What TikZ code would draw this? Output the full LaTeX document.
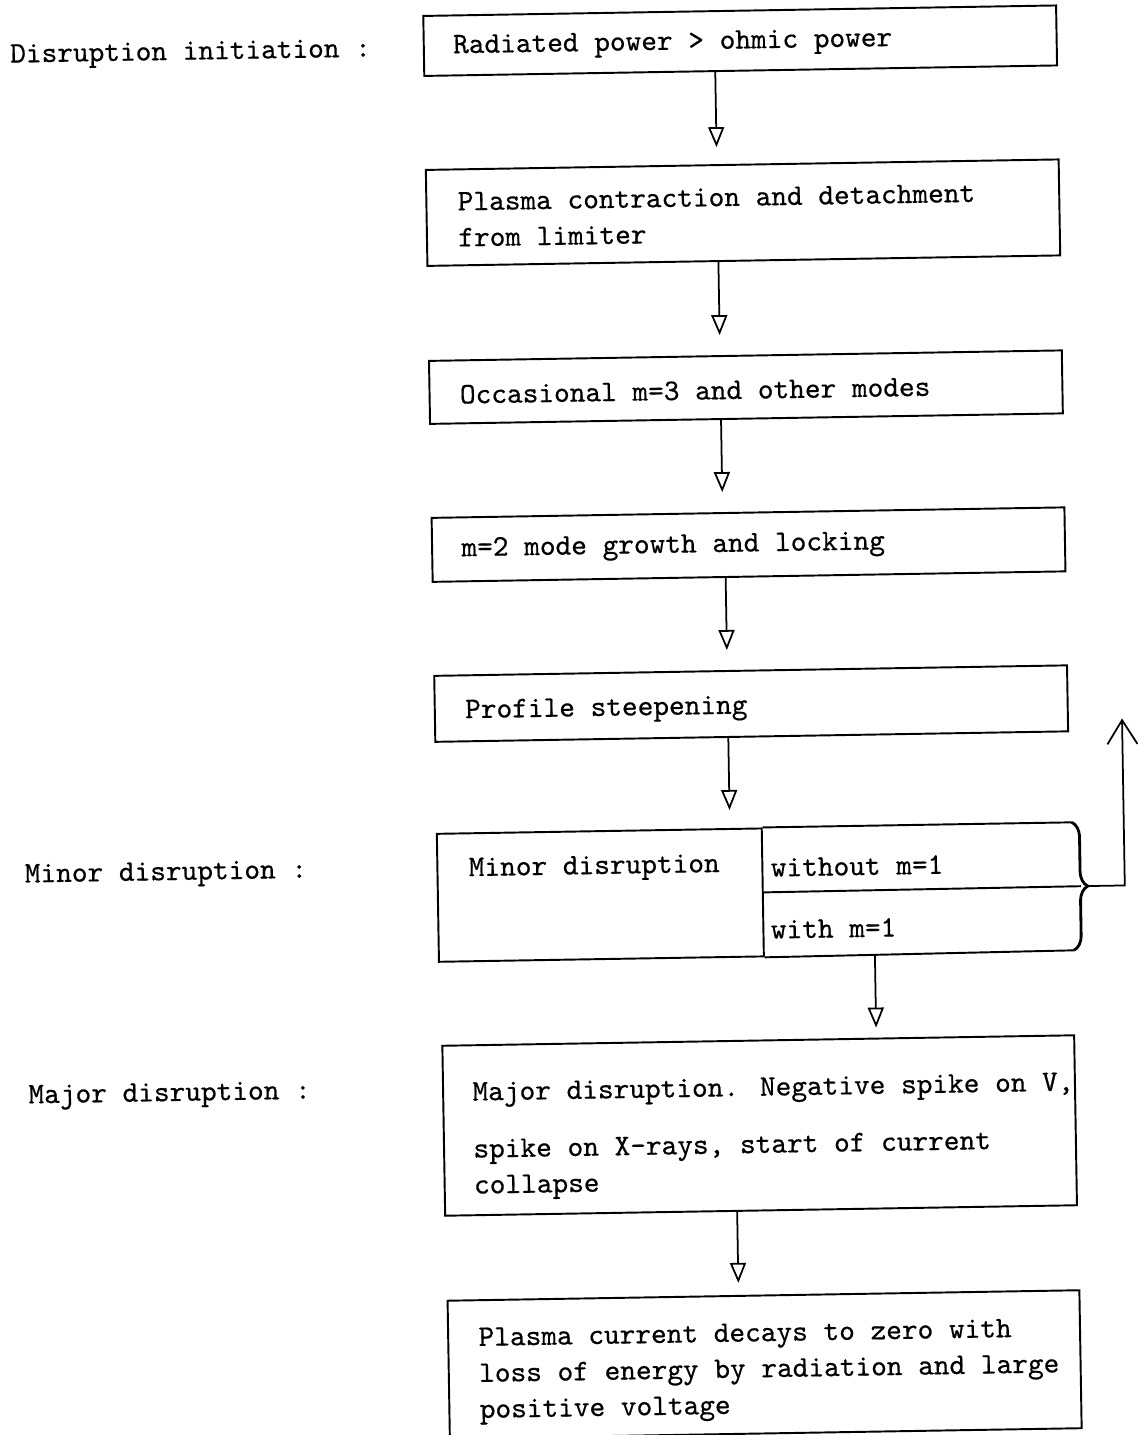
\documentclass[tikz,border=0pt]{standalone}
\usepackage{fontspec}
\usepackage{tikz}
\usetikzlibrary{arrows.meta}
\usetikzlibrary{decorations.pathreplacing}

\newfontfamily\typewriter{lmmono10-regular.otf}[FakeBold=0.5]

\tikzset{
  stepbox/.style={draw, line width=1.1pt, anchor=north west, inner sep=0pt},
  boxtext/.style={anchor=west, align=left, inner sep=0pt, font=\typewriter\fontsize{17}{20.5}\selectfont},
  flow/.style={line width=1pt, -{Triangle[open, length=0.4cm, width=0.32cm, line width=1pt]}},
  backflow/.style={line width=1pt, -{Straight Barb[length=0.48cm, width=0.6cm, line width=1pt]}},
}

\begin{document}
\begin{tikzpicture}[x=0.02cm, y=-0.02cm]
  \useasboundingbox (0,0) rectangle (1137,1435);
  \begin{scope}[rotate=0.95, transform shape]
    % Kaestchen
    \node[stepbox, minimum width=12.66cm, minimum height=1.2cm] (b1) at (422,22) {};
    \node[stepbox, minimum width=12.66cm, minimum height=1.92cm] (b2) at (422,176) {};
    \node[stepbox, minimum width=12.66cm, minimum height=1.26cm] (b3) at (422,367) {};
    \node[stepbox, minimum width=12.66cm, minimum height=1.28cm] (b4) at (422,524) {};
    \node[stepbox, minimum width=12.66cm, minimum height=1.32cm] (b5) at (422,682) {};
    \node[stepbox, minimum width=6.5cm, minimum height=2.56cm] (minor) at (422,840) {};
    \node[stepbox, minimum width=12.64cm, minimum height=3.4cm] (major) at (424,1052) {};
    \node[stepbox, minimum width=12.64cm, minimum height=2.76cm] (b8) at (425,1307) {};

    % Texte
    \node[boxtext] (t1) at (452,55) {Radiated power > ohmic power};
    \node[boxtext] (t2) at (454,227) {Plasma contraction and detachment\\from limiter};
    \node[boxtext] (t3) at (453,402) {Occasional m=3 and other modes};
    \node[boxtext] (t4) at (452,558) {m=2 mode growth and locking};
    \node[boxtext] (t5) at (453,720) {Profile steepening};
    \node[boxtext] (t6) at (454,878) {Minor disruption};
    \node[boxtext] (t6a) at (756,880) {without m=1};
    \node[boxtext] (t6b) at (755,942) {with m=1};
    \node[boxtext] (t7) at (454,1149) {Major disruption. Negative spike on V,\\[12pt]spike on X-rays, start of current\\collapse};
    \node[boxtext] (t8) at (456,1384) {Plasma current decays to zero with\\loss of energy by radiation and large\\positive voltage};

    \node[boxtext] (l1) at (9,57) {Disruption initiation :};
    \node[boxtext] (l2) at (10,877) {Minor disruption :};
    \node[boxtext] (l3) at (10,1098) {Major disruption :};

    % Zellen und Klammer
    \draw[line width=1.1pt] (minor.north east) -- (1058,840);
    \draw[line width=1.1pt] (minor.east) -- (1066,904);
    \draw[line width=1.1pt] (minor.south east) -- (1058,968);
    \draw[line width=1.6pt, decorate, decoration={brace, amplitude=0.3cm}] (1058,840) -- (1058,968);

    % Pfeile
    \coordinate (tip1) at (714,159);
    \coordinate (tip2) at (714,347);
    \coordinate (tip3) at (714,504);
    \coordinate (tip4) at (716,662);
    \coordinate (tip5) at (716,822);
    \coordinate (tip6) at (859,1042);
    \coordinate (tip7) at (717,1295);
    \draw[flow] (b1.south -| tip1) -- (tip1);
    \draw[flow] (b2.south -| tip2) -- (tip2);
    \draw[flow] (b3.south -| tip3) -- (tip3);
    \draw[flow] (b4.south -| tip4) -- (tip4);
    \draw[flow] (b5.south -| tip5) -- (tip5);
    \draw[flow] (minor.south -| tip6) -- (tip6);
    \draw[flow] (major.south -| tip7) -- (tip7);

    \coordinate (brtip) at (1073,904);
    \coordinate (corner) at (1110,904);
    \coordinate (ret) at (1110,737);
    \draw[backflow] (brtip) -- (corner) -- (ret);
  \end{scope}
\end{tikzpicture}
\end{document}
